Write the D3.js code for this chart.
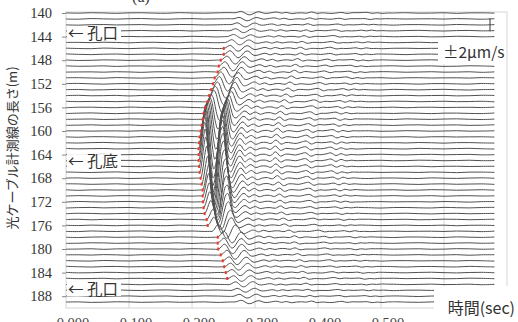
<!DOCTYPE html>
<html>
<head>
<meta charset="utf-8">
<script src="https://cdn.jsdelivr.net/npm/d3@7"></script>
<style>
  html, body { margin: 0; padding: 0; background: #fff; }
  svg { display: block; }
</style>
</head>
<body>
<svg id="chart" width="518" height="322"></svg>
<script>
// Channel positions along the optical fibre (m), one trace per metre
const depths = d3.range(140, 190);

// Onset time of the direct wave on each channel (s)
const arrival = [
  0.268, 0.265, 0.262, 0.259, 0.256, 0.253, 0.2504, 0.2504, 0.2456, 0.2424,
  0.2408, 0.2360, 0.2336, 0.2305, 0.2273, 0.2249, 0.2209, 0.2185, 0.2169, 0.2153,
  0.2137, 0.2121, 0.2113, 0.2105, 0.2105, 0.2105, 0.2113, 0.2121, 0.2137, 0.2153,
  0.2169, 0.2169, 0.2177, 0.2185, 0.2201, 0.2233, 0.2249, 0.2320, 0.2408, 0.2408,
  0.2416, 0.2456, 0.2488, 0.2512, 0.2536, 0.2560, 0.259, 0.262, 0.265, 0.268
];

// Peak amplitude of the direct wave on each channel (μm/s)
const amplitude = [
  0.5, 0.5, 0.6, 0.6, 0.6, 0.8, 0.9, 1.1, 1.2, 1.4,
  1.5, 1.8, 2.2, 2.5, 2.8, 3.4, 4.0, 4.9, 6.2, 7.4,
  8.6, 9.8, 10.8, 11.4, 11.7, 11.7, 11.4, 10.8, 9.8, 8.6,
  7.7, 6.8, 5.8, 4.9, 4.0, 3.1, 2.5, 2.2, 1.8, 1.5,
  1.5, 1.4, 1.2, 1.1, 0.9, 0.9, 0.8, 0.6, 0.6, 0.5
];

// Amplitude of the later coda on each channel (μm/s)
const codaAmp = [
  0.3, 0.3, 0.3, 0.35, 0.35, 0.35, 0.4, 0.4, 0.45, 0.45,
  0.5, 0.5, 0.5, 0.55, 0.55, 0.6, 0.6, 0.65, 0.65, 0.7,
  0.75, 0.75, 0.8, 0.8, 0.85, 0.85, 0.8, 0.8, 0.75, 0.7,
  0.65, 0.6, 0.55, 0.5, 0.45, 0.45, 0.4, 0.4, 0.4, 0.35,
  0.35, 0.35, 0.35, 0.35, 0.35, 0.35, 0.3, 0.3, 0.3, 0.3
];

// Channels carrying a first-arrival pick (m)
const pickDepths = [
  146, 147, 148, 149, 150, 151, 152, 153, 154, 155, 156, 157, 158, 159, 160,
  161, 162, 163, 164, 165, 166, 167, 168, 169, 170, 171, 172, 173, 174, 175,
  176, 178, 179, 180, 181, 182, 183, 184, 185
];

// Direct-wave pulse, normalised, sampled every 3.2 ms after onset
const waveletStep = 0.0032;
const wavelet = [
  0, 0.25, 0.7, 1.0, 0.75, 0.05, -0.65, -1.0, -0.85, -0.3,
  0.35, 0.8, 0.9, 0.55, 0.05, -0.25, -0.3, -0.22, -0.1, 0.0,
  0.06, 0.05, 0.0, -0.02, 0
];

// Coda wiggles, sampled every 8 ms starting 50 ms after onset
const codaStart = 0.05, codaStep = 0.008;
const coda = [
  0, 0.3, 0.8, -0.4, 0.6, -0.5, 0.1, 0.2, -0.3, 1.0,
  -0.6, 0.1, 0.0, -0.2, 0.3, 0.7, -0.5, 0.1, 0.0, 0.2,
  0.5, -0.4, 0.3, -0.2, 0.1, 0
];

// Background noise, sampled every 20 ms (shifted from channel to channel)
const noiseStep = 0.02, noiseAmp = 0.17;
const noise = [
  0.2, -0.3, 0.5, 0.1, -0.6, 0.3, 0.4, -0.2, -0.5, 0.6,
  0.0, -0.4, 0.3, 0.7, -0.1, -0.6, 0.2, 0.5, -0.3, 0.1,
  0.4, -0.5, -0.2, 0.6, 0.3, -0.4, 0.0, 0.5, -0.3, -0.1,
  0.4, -0.6, 0.2, 0.3, -0.2, 0.1
];

// Time axis ticks (s); labels are shown for the ones left of the axis title
const timeTicks = [0, 0.1, 0.2, 0.3, 0.4, 0.5, 0.6, 0.7];
const timeLabels = [0, 0.1, 0.2, 0.3, 0.4, 0.5];
const depthTicks = [140, 144, 148, 152, 156, 160, 164, 168, 172, 176, 180, 184, 188];
const scaleBar = 2; // μm/s

// Annotations along the cable
const marks = [
  { depth: 143.4, text: "\u2190 孔口" },
  { depth: 165.1, text: "\u2190 孔底" },
  { depth: 186.8, text: "\u2190 孔口" }
];

const svg = d3.select("#chart");
const x = d3.scaleLinear().domain([0, 0.7]).range([66, 507]);
const y = d3.scaleLinear().domain([140, 190]).range([13, 308]);
const a = d3.scaleLinear().domain([-scaleBar, scaleBar]).range([6.5, -6.5]);

const jp = "'Noto Sans CJK JP', 'Noto Sans', sans-serif";
const serif = "'Liberation Serif', 'DejaVu Serif', serif";

// plot frame and vertical grid
svg.append("rect")
  .attr("x", x(0)).attr("y", 12)
  .attr("width", x(0.7) - x(0)).attr("height", 308 - 12)
  .attr("fill", "none").attr("stroke", "#d6d6d6").attr("stroke-width", 1);
svg.append("g").selectAll("line")
  .data(timeTicks.slice(1, -1)).join("line")
  .attr("x1", d => x(d)).attr("x2", d => x(d))
  .attr("y1", 12).attr("y2", 308)
  .attr("stroke", "#d6d6d6").attr("stroke-width", 1);

svg.append("clipPath").attr("id", "plotclip")
  .append("rect").attr("x", x(0)).attr("y", 8)
  .attr("width", x(0.7) - x(0)).attr("height", 302);

// piecewise-linear lookup into a regularly sampled series
function sampleAt(arr, start, step, t) {
  const u = (t - start) / step;
  if (u < 0 || u > arr.length - 1) return 0;
  const k = Math.floor(u), f = u - k;
  const v0 = arr[k], v1 = k + 1 < arr.length ? arr[k + 1] : arr[k];
  return v0 + (v1 - v0) * f;
}

const traceData = depths.map((dep, i) => {
  const t0 = arrival[i];
  const shifted = noise.map((_, k) => noise[(k + 7 * i) % noise.length]);
  const winStart = t0 - 0.004;
  const winEnd = t0 + codaStart + (coda.length - 1) * codaStep;
  const times = [];
  shifted.forEach((_, k) => {
    const t = k * noiseStep;
    if (t < winStart || t > winEnd) times.push(t);
  });
  times.push(winStart);
  wavelet.forEach((_, k) => times.push(t0 + k * waveletStep));
  const wEnd = (wavelet.length - 1) * waveletStep;
  coda.forEach((_, k) => {
    const rel = codaStart + k * codaStep;
    if (rel > wEnd + 0.002) times.push(t0 + rel);
  });
  times.sort((p, q) => p - q);
  const pts = times.filter(t => t >= 0 && t <= 0.7).map(t => ({
    t,
    v: amplitude[i] * sampleAt(wavelet, 0, waveletStep, t - t0)
       + codaAmp[i] * sampleAt(coda, codaStart, codaStep, t - t0)
       + noiseAmp * sampleAt(shifted, 0, noiseStep, t)
  }));
  return { depth: dep, pts };
});

const line = d3.line()
  .x(d => x(d.t))
  .curve(d3.curveCatmullRom.alpha(0.5));

svg.append("g").attr("clip-path", "url(#plotclip)")
  .selectAll("path").data(traceData).join("path")
  .attr("d", tr => line.y(d => y(tr.depth) + a(d.v))(tr.pts))
  .attr("fill", "none")
  .attr("stroke", "#505050")
  .attr("stroke-width", 1);

// first-arrival picks
svg.append("g").selectAll("rect")
  .data(pickDepths).join("rect")
  .attr("x", d => x(arrival[depths.indexOf(d)]) - 1)
  .attr("y", d => y(d) - 1.5)
  .attr("width", 2).attr("height", 3)
  .attr("fill", "#e8392b");

// amplitude scale bar
svg.append("line")
  .attr("x1", 490).attr("x2", 490)
  .attr("y1", y(142) + a(scaleBar)).attr("y2", y(142) + a(-scaleBar))
  .attr("stroke", "#333").attr("stroke-width", 1);
svg.append("rect").attr("x", 438).attr("y", 38).attr("width", 68).attr("height", 26).attr("fill", "#fff");
svg.append("text").attr("x", 443).attr("y", 57.5)
  .attr("font-family", jp).attr("font-size", 15.5).attr("fill", "#333")
  .text("\u00b1" + scaleBar + "\u03bcm/s");

// cable annotations
const mg = svg.append("g").selectAll("g").data(marks).join("g");
mg.append("rect")
  .attr("x", 67).attr("y", d => y(d.depth) - 7)
  .attr("width", 54).attr("height", 14).attr("fill", "#fff");
mg.append("text")
  .attr("x", 68).attr("y", d => y(d.depth) + 5.5)
  .attr("font-family", jp).attr("font-size", 15.5).attr("fill", "#333")
  .text(d => d.text);

// depth axis
const yAxis = svg.append("g").attr("transform", `translate(${x(0)},0)`)
  .call(d3.axisLeft(y).tickValues(depthTicks).tickSize(4).tickPadding(10));
yAxis.select(".domain").remove();
yAxis.selectAll(".tick line").attr("stroke", "#888");
yAxis.selectAll(".tick text")
  .attr("font-family", serif).attr("font-size", 14.5).attr("fill", "#333");

// time axis labels (below the frame)
svg.append("g").selectAll("text").data(timeLabels).join("text")
  .attr("x", d => x(d) + 7).attr("y", 328)
  .attr("text-anchor", "middle")
  .attr("font-family", serif).attr("font-size", 14.5).attr("fill", "#444")
  .text(d => d.toFixed(3));

// axis titles
svg.append("text")
  .attr("transform", "translate(17,148) rotate(-90)")
  .attr("text-anchor", "middle")
  .attr("font-family", jp).attr("font-size", 13).attr("fill", "#333")
  .text("光ケーブル計測線の長さ(m)");
svg.append("rect").attr("x", 434).attr("y", 286).attr("width", 84).attr("height", 36).attr("fill", "#fff");
svg.append("text").attr("x", 515).attr("y", 314)
  .attr("text-anchor", "end")
  .attr("font-family", jp).attr("font-size", 16).attr("fill", "#333")
  .text("時間(sec)");

// panel letter
svg.append("text").attr("x", 141).attr("y", 1.5)
  .attr("text-anchor", "middle")
  .attr("font-family", serif).attr("font-size", 16).attr("fill", "#333")
  .text("(a)");
</script>
</body>
</html>
